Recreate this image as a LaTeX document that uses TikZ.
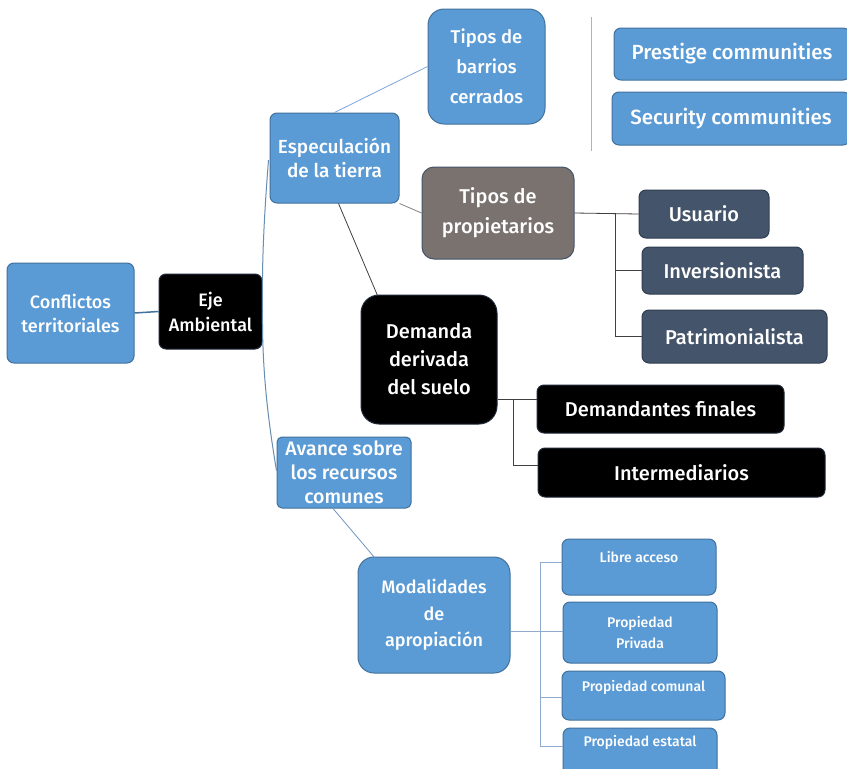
\documentclass[tikz,border=0pt]{standalone}
\usepackage{fontspec}
\setmainfont{Fira Sans}[UprightFont={* Medium}]
\usetikzlibrary{calc}
\definecolor{cblue}{HTML}{5B9BD5}
\definecolor{cblueb}{HTML}{41719C}
\definecolor{cgray}{HTML}{7A726F}
\definecolor{cslate}{HTML}{44546A}
\definecolor{cslateb}{HTML}{2F3E52}
\definecolor{cblackb}{HTML}{1F2A3A}
\definecolor{clink}{HTML}{7EA6D6}
\definecolor{cbrk}{HTML}{8FAACC}
\tikzset{
  box/.style={rounded corners=7pt, line width=1pt, text=white, align=center, inner sep=0pt},
  bluebox/.style={box, fill=cblue, draw=cblueb},
  blackbox/.style={box, fill=black, draw=cblackb},
  slatebox/.style={box, fill=cslate, draw=cslateb},
  graybox/.style={box, fill=cgray, draw=cslate},
  sz/.style 2 args={minimum width=#1, minimum height=#2},
  bluelink/.style={draw=clink, line width=0.8pt},
  darklink/.style={draw=black!75, line width=0.8pt},
  graylink/.style={draw=cgray!90, line width=0.8pt},
  brk/.style={draw=cbrk, line width=0.8pt},
}
\begin{document}
\begin{tikzpicture}[x=1pt,y=-1pt]
\useasboundingbox (0,0) rectangle (847,769);
\clip (0,0) rectangle (847,769);
\fill[white] (0,0) rectangle (847,769);

% nodes
\node[bluebox, sz={127}{100}, font=\fontsize{18}{24}\selectfont] (conf) at (70.5,313) {Conflictos\\territoriales};
\node[blackbox, sz={103}{75}, font=\fontsize{18}{25}\selectfont] (eje) at (210.5,311.5) {Eje\\Ambiental};
\node[bluebox, sz={129}{90}, font=\fontsize{19}{24}\selectfont] (esp) at (334.5,158) {Especulación\\de la tierra};
\node[bluebox, sz={117}{115}, rounded corners=16pt, font=\fontsize{18.5}{30}\selectfont] (barrios) at (486.5,66.5) {Tipos de\\barrios\\cerrados};
\node[bluebox, sz={236}{52}, font=\fontsize{20.5}{24}\selectfont] (prestige) at (732,54) {Prestige communities};
\node[bluebox, sz={238}{53}, font=\fontsize{20.5}{24}\selectfont] (security) at (731,118.5) {Security communities};
\coordinate (vtop) at (591,17);
\coordinate (vbot) at (591,151);
\node[graybox, sz={152}{92}, rounded corners=12pt, font=\fontsize{20}{30}\selectfont] (prop) at (498,213) {Tipos de\\propietarios};
\node[slatebox, sz={130}{48}, font=\fontsize{20}{24}\selectfont] (usuario) at (704,214) {Usuario};
\node[slatebox, sz={161}{47}, font=\fontsize{20}{24}\selectfont] (invers) at (722.5,270.5) {Inversionista};
\node[slatebox, sz={185}{53}, font=\fontsize{20}{24}\selectfont] (patri) at (734.5,336.5) {Patrimonialista};
\node[blackbox, sz={136}{129}, rounded corners=18pt, font=\fontsize{20}{28}\selectfont] (demanda) at (429,359.5) {Demanda\\derivada\\del suelo};
\node[blackbox, sz={247}{48}, font=\fontsize{20}{24}\selectfont] (dfin) at (660.5,409) {Demandantes finales};
\node[blackbox, sz={287}{49}, font=\fontsize{20}{24}\selectfont] (inter) at (681.5,472.5) {Intermediarios};
\node[bluebox, sz={134}{71}, rounded corners=5pt, font=\fontsize{19.5}{24}\selectfont] (avance) at (344,472.5) {Avance sobre\\los recursos\\comunes};
\node[bluebox, sz={152}{116}, rounded corners=16pt, font=\fontsize{18}{26.5}\selectfont] (modal) at (434,615) {Modalidades\\de\\apropiación};
\node[bluebox, sz={154}{56}] (libre) at (639,567) {};
\node[text=white, font=\fontsize{14}{18}\selectfont, anchor=north, inner sep=0pt] (libret) at ($(libre.north)+(0,13)$) {Libre acceso};
\node[bluebox, sz={154}{61}, font=\fontsize{14}{21}\selectfont] (privada) at (640,632.5) {Propiedad\\Privada};
\node[bluebox, sz={163}{49}, font=\fontsize{14}{18}\selectfont] (comunal) at (643.5,695.5) {Propiedad comunal\\[2pt]};
\node[bluebox, sz={154}{48}, font=\fontsize{14}{18}\selectfont] (estatal) at (640,752) {Propiedad estatal\\[4pt]};

% separator line
\draw[draw=gray!60, line width=0.8pt] (vtop) -- (vbot);

% connectors
\draw[draw=cblueb, line width=1.5pt] (conf.east) -- (eje.west);
\coordinate (trtop) at ($(esp.west)+(-1,2)$);
\coordinate (trbot) at ($(avance.west)+(0,-2)$);
\draw[draw=cblueb!80, line width=1pt] (trtop) .. controls (263,230) and (262,270) .. (eje.east) .. controls (262,370) and (268,420) .. (trbot);
\draw[bluelink] (esp.north) -- (barrios.west);
\draw[graylink] (esp.south east) -- (prop.west);
\draw[darklink] ($(esp.south)+(4,0)$) -- ($(demanda.north west)+(17,1)$);
\draw[draw=clink!90!black, line width=0.8pt] ($(avance.south)+(-11,0)$) -- ($(modal.north west)+(17,1)$);

% bracket propietarios
\coordinate (pb) at (615,213);
\draw[darklink] (prop.east) -- (usuario.west);
\draw[darklink] (pb) |- (invers.west);
\draw[darklink] (pb) |- (patri.west);

% bracket demanda
\coordinate (db) at (513,399);
\draw[darklink] (demanda.east |- db) -- (dfin.west |- db);
\draw[darklink] (db) |- ($(inter.west)+(0,-7)$);

% bracket modalidades
\coordinate (mb) at (540,631);
\draw[brk] (modal.east |- mb) -- (privada.west |- mb);
\draw[brk] (mb) |- ($(libre.west)+(0,-5)$);
\draw[brk] (mb) |- ($(comunal.west)+(0,1.5)$);
\draw[brk] (mb) |- ($(estatal.west)+(0,-6)$);
\end{tikzpicture}
\end{document}
